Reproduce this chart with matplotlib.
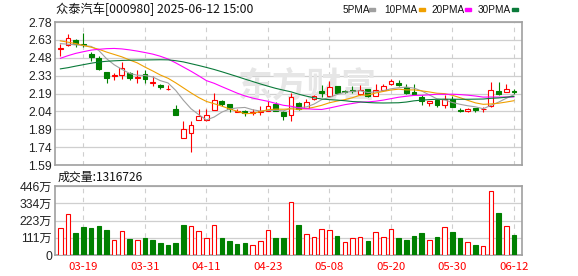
import numpy as np
import matplotlib
matplotlib.use('Agg')
import matplotlib.pyplot as plt
from matplotlib.patches import Rectangle

# trading days shown (2025)
dates = ['03-14', '03-17', '03-18', '03-19', '03-20', '03-21', '03-24', '03-25', '03-26', '03-27',
         '03-28', '03-31', '04-01', '04-02', '04-03', '04-07', '04-08', '04-09', '04-10', '04-11',
         '04-14', '04-15', '04-16', '04-17', '04-18', '04-21', '04-22', '04-23', '04-24', '04-25',
         '04-28', '04-29', '04-30', '05-06', '05-07', '05-08', '05-09', '05-12', '05-13', '05-14',
         '05-15', '05-16', '05-19', '05-20', '05-21', '05-22', '05-23', '05-26', '05-27', '05-28',
         '05-29', '05-30', '06-03', '06-04', '06-05', '06-06', '06-09', '06-10', '06-11', '06-12']
tick_dates = ['03-19', '03-31', '04-11', '04-23', '05-08', '05-20', '05-30', '06-12']

open_p = [2.556, 2.587, 2.629, 2.593, 2.513, 2.483, 2.362, 2.332, 2.340, 2.359,
          2.310, 2.350, 2.274, 2.258, 2.219, 2.057, 1.818, 1.856, 1.966, 1.966,
          2.051, 2.126, 2.098, 2.035, 2.043, 2.026, 2.035, 2.043, 2.098, 2.029,
          2.002, 2.107, 2.065, 2.142, 2.208, 2.164, 2.244, 2.208, 2.214, 2.184,
          2.219, 2.164, 2.216, 2.263, 2.270, 2.236, 2.194, 2.153, 2.106, 2.128,
          2.093, 2.142, 2.051, 2.043, 2.068, 2.054, 2.082, 2.208, 2.197, 2.203]
high_p = [2.598, 2.684, 2.642, 2.687, 2.527, 2.494, 2.362, 2.359, 2.447, 2.365,
          2.381, 2.381, 2.327, 2.266, 2.258, 2.087, 1.960, 1.960, 2.056, 2.056,
          2.192, 2.128, 2.098, 2.056, 2.051, 2.054, 2.084, 2.125, 2.112, 2.043,
          2.186, 2.115, 2.142, 2.175, 2.252, 2.285, 2.244, 2.214, 2.244, 2.255,
          2.219, 2.263, 2.260, 2.302, 2.294, 2.263, 2.263, 2.175, 2.120, 2.142,
          2.175, 2.164, 2.062, 2.065, 2.068, 2.070, 2.277, 2.277, 2.260, 2.225]
low_p = [2.494, 2.579, 2.571, 2.574, 2.458, 2.379, 2.271, 2.299, 2.304, 2.296,
         2.271, 2.274, 2.247, 2.225, 2.210, 2.007, 1.818, 1.697, 1.966, 1.960,
         2.051, 2.078, 2.029, 2.029, 1.996, 2.002, 2.010, 2.037, 2.037, 1.963,
         1.958, 2.048, 2.062, 2.134, 2.153, 2.159, 2.181, 2.192, 2.189, 2.175,
         2.153, 2.162, 2.208, 2.258, 2.244, 2.181, 2.175, 2.087, 2.079, 2.076,
         2.065, 2.071, 2.035, 2.029, 2.035, 2.035, 2.071, 2.175, 2.197, 2.181]
close_p = [2.560, 2.651, 2.598, 2.585, 2.489, 2.390, 2.315, 2.340, 2.395, 2.318,
           2.320, 2.302, 2.280, 2.241, 2.225, 2.007, 1.893, 1.924, 1.998, 2.004,
           2.128, 2.095, 2.057, 2.040, 2.026, 2.032, 2.040, 2.084, 2.043, 1.999,
           2.153, 2.054, 2.114, 2.164, 2.186, 2.241, 2.186, 2.197, 2.205, 2.211,
           2.164, 2.217, 2.244, 2.285, 2.257, 2.186, 2.180, 2.120, 2.120, 2.093,
           2.142, 2.076, 2.043, 2.060, 2.051, 2.060, 2.214, 2.178, 2.222, 2.200]
prev_close = 2.53

ma5 = [2.600, 2.595, 2.590, 2.584, 2.577, 2.543, 2.475, 2.424, 2.386, 2.352,
       2.337, 2.335, 2.323, 2.292, 2.273, 2.211, 2.129, 2.058, 2.009, 1.965,
       1.989, 2.030, 2.056, 2.065, 2.069, 2.050, 2.039, 2.044, 2.045, 2.040,
       2.064, 2.067, 2.073, 2.097, 2.134, 2.152, 2.178, 2.195, 2.203, 2.208,
       2.193, 2.199, 2.208, 2.224, 2.233, 2.238, 2.230, 2.206, 2.173, 2.140,
       2.131, 2.110, 2.095, 2.083, 2.074, 2.058, 2.086, 2.113, 2.145, 2.175]
ma10 = [2.623, 2.612, 2.600, 2.585, 2.570, 2.553, 2.530, 2.510, 2.490, 2.464,
        2.440, 2.405, 2.373, 2.339, 2.312, 2.274, 2.232, 2.190, 2.151, 2.119,
        2.100, 2.080, 2.057, 2.037, 2.017, 2.020, 2.034, 2.050, 2.055, 2.054,
        2.057, 2.053, 2.059, 2.071, 2.087, 2.108, 2.122, 2.134, 2.150, 2.171,
        2.172, 2.189, 2.202, 2.214, 2.221, 2.215, 2.215, 2.207, 2.198, 2.187,
        2.184, 2.170, 2.150, 2.128, 2.107, 2.095, 2.098, 2.104, 2.114, 2.125]
ma20 = [2.478, 2.500, 2.519, 2.533, 2.546, 2.553, 2.558, 2.560, 2.556, 2.548,
        2.538, 2.526, 2.513, 2.495, 2.472, 2.440, 2.405, 2.370, 2.332, 2.292,
        2.270, 2.242, 2.215, 2.188, 2.165, 2.147, 2.133, 2.120, 2.103, 2.087,
        2.079, 2.066, 2.058, 2.054, 2.052, 2.064, 2.078, 2.092, 2.102, 2.113,
        2.115, 2.121, 2.130, 2.142, 2.154, 2.162, 2.169, 2.170, 2.174, 2.179,
        2.178, 2.179, 2.176, 2.171, 2.164, 2.155, 2.156, 2.155, 2.156, 2.156]
ma30 = [2.390, 2.400, 2.413, 2.425, 2.437, 2.447, 2.453, 2.457, 2.460, 2.462,
        2.463, 2.464, 2.465, 2.466, 2.465, 2.458, 2.448, 2.433, 2.418, 2.402,
        2.385, 2.366, 2.346, 2.326, 2.305, 2.285, 2.265, 2.246, 2.228, 2.213,
        2.199, 2.179, 2.163, 2.149, 2.139, 2.134, 2.130, 2.125, 2.118, 2.115,
        2.110, 2.107, 2.106, 2.107, 2.108, 2.114, 2.124, 2.130, 2.134, 2.137,
        2.138, 2.137, 2.137, 2.137, 2.138, 2.139, 2.145, 2.148, 2.154, 2.161]

# volume in 万 shares
volume = [172, 265, 142, 181, 175, 187, 162, 97, 153, 103,
          97, 110, 97, 78, 65, 78, 194, 185, 153, 108,
          192, 110, 91, 71, 78, 62, 88, 159, 110, 110,
          340, 194, 134, 114, 166, 159, 123, 82, 108, 114,
          91, 147, 114, 166, 110, 97, 123, 142, 95, 116,
          179, 149, 110, 84, 65, 56, 412, 272, 185, 131.67]

price_ticks = ['2.78', '2.63', '2.48', '2.33', '2.19', '2.04', '1.89', '1.74', '1.59']
vol_ticks = ['0', '111万', '223万', '334万', '446万']

RED = '#ff0000'
GREEN = '#008000'
GRID = '#cfcfcf'
FRAME = '#a0a0a0'
CJK = ['Noto Sans CJK SC', 'DejaVu Sans']
NUM = ['Liberation Sans', 'Noto Sans CJK SC']

W, H = 578, 276
fig = plt.figure(figsize=(W / 100, H / 100), dpi=100)


def box(l, t, r, b):
    return [l / W, 1 - b / H, (r - l) / W, (b - t) / H]


ax = fig.add_axes(box(55, 22, 522, 165))
axv = fig.add_axes(box(55, 186, 522, 255))

x = np.arange(len(dates))
o, h, l, c = map(np.array, (open_p, high_p, low_p, close_p))
up = c >= o
cols = np.where(up, RED, GREEN)

# candles
ax.vlines(x, l, h, colors=cols, lw=0.8, zorder=3)
ax.bar(x, np.maximum(np.abs(c - o), 0.002), bottom=np.minimum(o, c), width=0.62,
       color=np.where(up, 'white', GREEN), edgecolor=cols, lw=0.8, zorder=4)

ax.plot(x, ma5, color='#a0a0a0', lw=0.8, zorder=5)
ax.plot(x, ma10, color='#f0a000', lw=0.8, zorder=5)
ax.plot(x, ma20, color='#ff00ff', lw=0.8, zorder=5)
ax.plot(x, ma30, color='#0a7a3a', lw=0.8, zorder=5)

ax.text(0.54, 0.55, '东方财富', transform=ax.transAxes, ha='center', va='center',
        fontsize=25, fontweight='bold', color='#e6e6e6', family=CJK, zorder=1)

# volume
prev = np.concatenate([[prev_close], c[:-1]])
vup = c >= prev
vcols = np.where(vup, RED, GREEN)
axv.bar(x, volume, width=0.6, color=np.where(vup, 'white', GREEN),
        edgecolor=vcols, lw=0.8, zorder=3)

tick_idx = [dates.index(d) for d in tick_dates]
for a in (ax, axv):
    a.set_xlim(-0.7, 60.05)
    a.set_xticks(tick_idx)
    a.grid(axis='x', color=GRID, lw=0.8, ls=(0, (4, 4)), zorder=0)
    a.grid(axis='y', color=GRID, lw=0.9, zorder=0)
    a.tick_params(length=0, pad=2, colors='#222222')
    for s in a.spines.values():
        s.set_color(FRAME)
        s.set_linewidth(1.2)
    a.set_axisbelow(True)

ax.set_ylim(1.59, 2.78)
ax.set_yticks(np.linspace(1.59, 2.78, 9))
ax.set_yticklabels(price_ticks[::-1], family=NUM, fontsize=8.7)
ax.set_xticklabels([])

axv.set_ylim(0, 446)
axv.set_yticks(np.linspace(0, 446, 5))
axv.set_yticklabels(vol_ticks, family=NUM, fontsize=8.7)
axv.set_xticklabels(tick_dates, family=CJK, fontsize=8.2, color=RED)
axv.tick_params(axis='x', pad=5, labelcolor=RED)

fig.text(56 / W, 1 - 9.5 / H, '众泰汽车[000980] 2025-06-12 15:00', family=CJK,
         fontsize=8.8, va='center', ha='left', color='#111111')
fig.text(58 / W, 1 - 177 / H, '成交量:1316726', family=CJK,
         fontsize=8.6, va='center', ha='left', color='#111111')

# MA legend
legend = [('5PMA', 342.5, '#a0a0a0', 369), ('10PMA', 384, '#f0a000', 419),
          ('20PMA', 431, '#ff00ff', 465), ('30PMA', 477.5, '#0a7a3a', 512)]
for label, tx, colr, mx in legend:
    fig.text(tx / W, 1 - 10 / H, label, family=['Liberation Sans'],
             fontsize=7.2, va='center', ha='left', color='#111111')
    fig.patches.append(Rectangle((mx / W, 1 - 11 / H), 6 / W, 3 / H,
                                 transform=fig.transFigure, color=colr))

fig.savefig('out.png', dpi=100)
